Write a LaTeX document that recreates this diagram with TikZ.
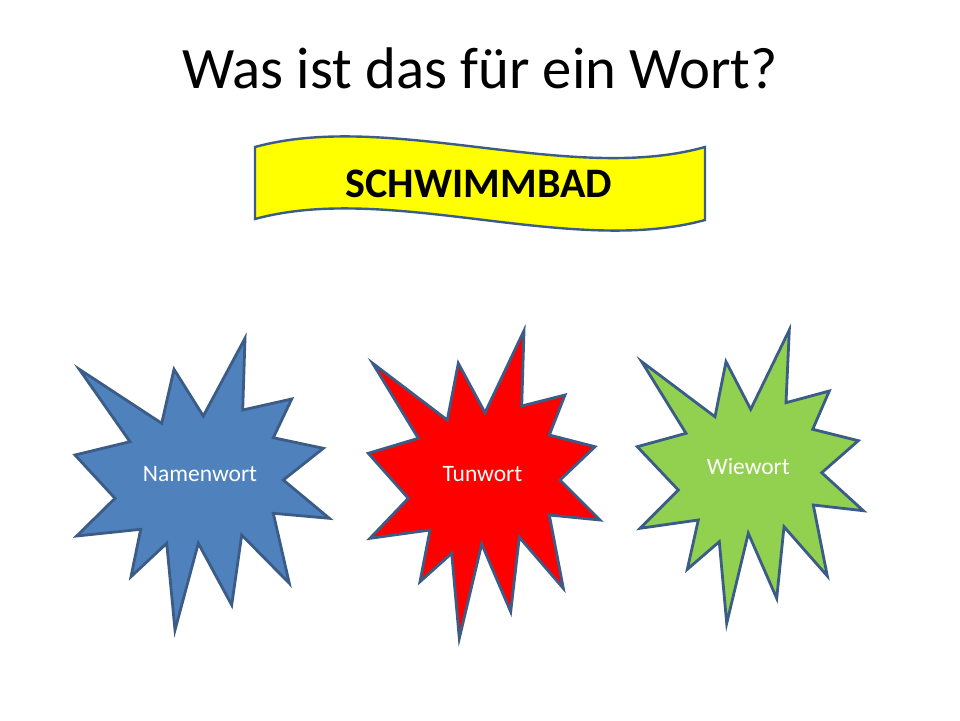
\documentclass[tikz,border=0pt]{standalone}
\usepackage{fontspec}
\setmainfont{Carlito}
\definecolor{outl}{HTML}{3B5C87}
\definecolor{bluefill}{HTML}{4F81BD}
\definecolor{redfill}{HTML}{FF0000}
\definecolor{greenfill}{HTML}{92D050}
\definecolor{yellowfill}{HTML}{FFFF00}
\tikzset{
  starshape/.style={draw=outl, line width=2.8pt, line join=miter},
  bannershape/.style={draw=outl, line width=2.4pt, fill=yellowfill},
  starlabel/.style={text=white, font=\fontsize{23.5}{26}\selectfont, anchor=base},
}
\begin{document}
\begin{tikzpicture}[x=1pt,y=-1pt]
\useasboundingbox (0,0) rectangle (960,720);
\fill[white] (0,0) rectangle (960,720);
% title
\node[anchor=base, font=\fontsize{58.7}{62}\selectfont] (title) at (480,88) {Was ist das für ein Wort?};
% banner
\draw[bannershape] (255,147) .. controls (390,110) and (570,185) .. (705,147)
  -- (705,220) .. controls (570,257) and (390,182) .. (255,219) -- cycle;
\node[anchor=base, font=\bfseries\fontsize{42}{46}\selectfont] (word) at (479,197) {SCHWIMMBAD};
% blue star
\draw[starshape, fill=bluefill] (79.3,369.3) -- (161.7,423.3) -- (174,369.3) -- (203.3,416) -- (245,338.3) -- (242.7,410) -- (291.7,399) -- (273.3,437.7) -- (323.3,448.3) -- (283.3,480) -- (329.3,518.3) -- (273.3,513.3) -- (289.3,583.3) -- (241.7,535) -- (231.7,605) -- (198.3,543.3) -- (175,630) -- (166.7,543.3) -- (131,576.7) -- (140.7,529.3) -- (76.7,536) -- (115,498.3) -- (75,455) -- (130,441.7) -- cycle;
\node[starlabel] (nomen) at (200,481.7) {Namenwort};
% red star
\draw[starshape, fill=redfill] (372.7,363.3) -- (447.3,420) -- (458.3,363.3) -- (485,412.7) -- (524,330.7) -- (521.7,406) -- (565,395) -- (549.3,435) -- (595,446.7) -- (560,480) -- (600,520) -- (549.3,515) -- (563.3,588.3) -- (519.3,537.3) -- (510.7,611.7) -- (481.7,544) -- (459.3,638.3) -- (451.7,553.3) -- (420,581.7) -- (430,530) -- (370,538.3) -- (408.3,498.3) -- (368.3,453.3) -- (418.3,438.3) -- cycle;
\node[starlabel] (verb) at (482.5,481.7) {Tunwort};
% green star
\draw[starshape, fill=greenfill] (641.7,361.7) -- (715,416.7) -- (726,361.7) -- (750.7,409.3) -- (789.3,330) -- (786,402.7) -- (829.3,391) -- (812.7,429.3) -- (858.3,440.7) -- (821.7,472.7) -- (863.3,510.7) -- (813.3,505) -- (827.3,576) -- (784,526.7) -- (776.7,598.3) -- (748.3,533.3) -- (726.7,623.3) -- (719.3,541.7) -- (687.3,569.3) -- (698.3,520) -- (640,528.3) -- (678.3,490) -- (637.3,446.7) -- (686,433.3) -- cycle;
\node[starlabel] (adj) at (748.3,474) {Wiewort};
\end{tikzpicture}
\end{document}
